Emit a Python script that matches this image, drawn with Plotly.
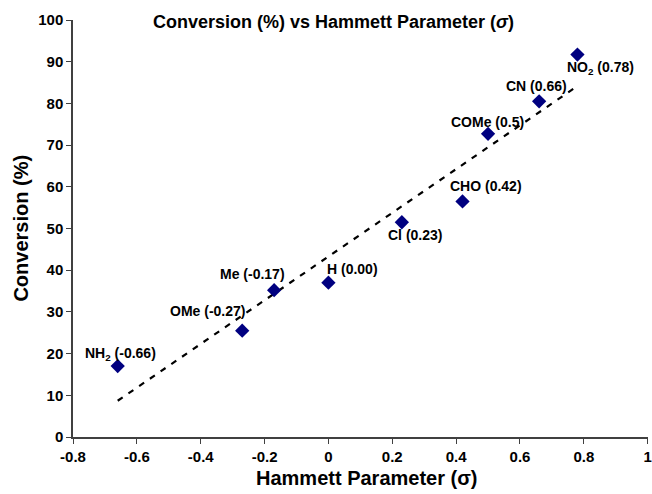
import plotly.graph_objects as go
import numpy as np

# substituent data
labels = ['NH<sub>2</sub> (-0.66)', 'OMe (-0.27)', 'Me (-0.17)', 'H (0.00)', 'Cl (0.23)',
          'CHO (0.42)', 'COMe (0.5)', 'CN (0.66)', 'NO<sub>2</sub> (0.78)']
sigma = [-0.66, -0.27, -0.17, 0.0, 0.23, 0.42, 0.5, 0.66, 0.78]
conversion = [17.0, 25.5, 35.2, 37.0, 51.5, 56.5, 72.7, 80.5, 91.7]

x_ticks = [-0.8, -0.6, -0.4, -0.2, 0, 0.2, 0.4, 0.6, 0.8, 1]
x_ticktext = ['-0.8', '-0.6', '-0.4', '-0.2', '0', '0.2', '0.4', '0.6', '0.8', '1']

# label offsets in px (x, y up)
shifts = [(3, 12), (-35, 20), (-22, 16), (24, 14), (13, -13),
          (23, 15), (-1, 12), (-3, 15), (23, -13)]

# linear trendline
slope, icept = np.polyfit(sigma, conversion, 1)
tx = [min(sigma), max(sigma)]
ty = [slope * v + icept for v in tx]

fnt = 'Liberation Sans, Arial, sans-serif'

fig = go.Figure()
fig.add_trace(go.Scatter(x=tx, y=ty, mode='lines',
                         line=dict(color='black', width=2.2, dash='6px,7px'),
                         hoverinfo='skip'))
fig.add_trace(go.Scatter(x=sigma, y=conversion, mode='markers',
                         marker=dict(symbol='diamond', size=11, color='#000080')))

for lab, xv, yv, (sx, sy) in zip(labels, sigma, conversion, shifts):
    fig.add_annotation(x=xv, y=yv, text=lab, showarrow=False,
                       xshift=sx, yshift=sy,
                       font=dict(size=14, color='black', family=fnt, weight='bold'))

fig.add_annotation(x=0.453, y=0.996, xref='paper', yref='paper', showarrow=False,
                   yanchor='middle',
                   text='Conversion (%) vs Hammett Parameter (<i>σ</i>)',
                   font=dict(size=18, color='black', family=fnt, weight='bold'))
fig.add_annotation(x=0.512, y=-0.099, xref='paper', yref='paper', showarrow=False,
                   yanchor='middle', text='Hammett Parameter (σ)',
                   font=dict(size=20, color='black', family=fnt, weight='bold'))
fig.add_annotation(x=-0.092, y=0.5, xref='paper', yref='paper', showarrow=False,
                   xanchor='center', textangle=-90, text='Conversion (%)',
                   font=dict(size=20, color='black', family=fnt, weight='bold'))

fig.update_layout(
    width=652, height=494,
    margin=dict(l=73, r=4, t=20, b=57),
    plot_bgcolor='white', paper_bgcolor='white',
    showlegend=False,
    font=dict(family=fnt, color='black'),
    xaxis=dict(range=[-0.8, 1.001], tickvals=x_ticks, ticktext=x_ticktext,
               showgrid=False, zeroline=False, automargin=False,
               showline=True, linecolor='#404040', linewidth=1.5,
               ticks='outside', ticklen=5, tickcolor='#404040',
               ticklabeloverflow='allow',
               tickfont=dict(size=15, family=fnt, weight='bold')),
    yaxis=dict(range=[0, 100], dtick=10, showgrid=False, zeroline=False, automargin=False,
               showline=True, linecolor='#404040', linewidth=1.5,
               ticks='outside', ticklen=5, tickcolor='#404040',
               tickfont=dict(size=15, family=fnt, weight='bold')),
)

# drop the default page margin so the figure fills the window exactly
fig.write_html("out.html", config={'displayModeBar': False},
               post_script="document.body.style.margin='0';")
